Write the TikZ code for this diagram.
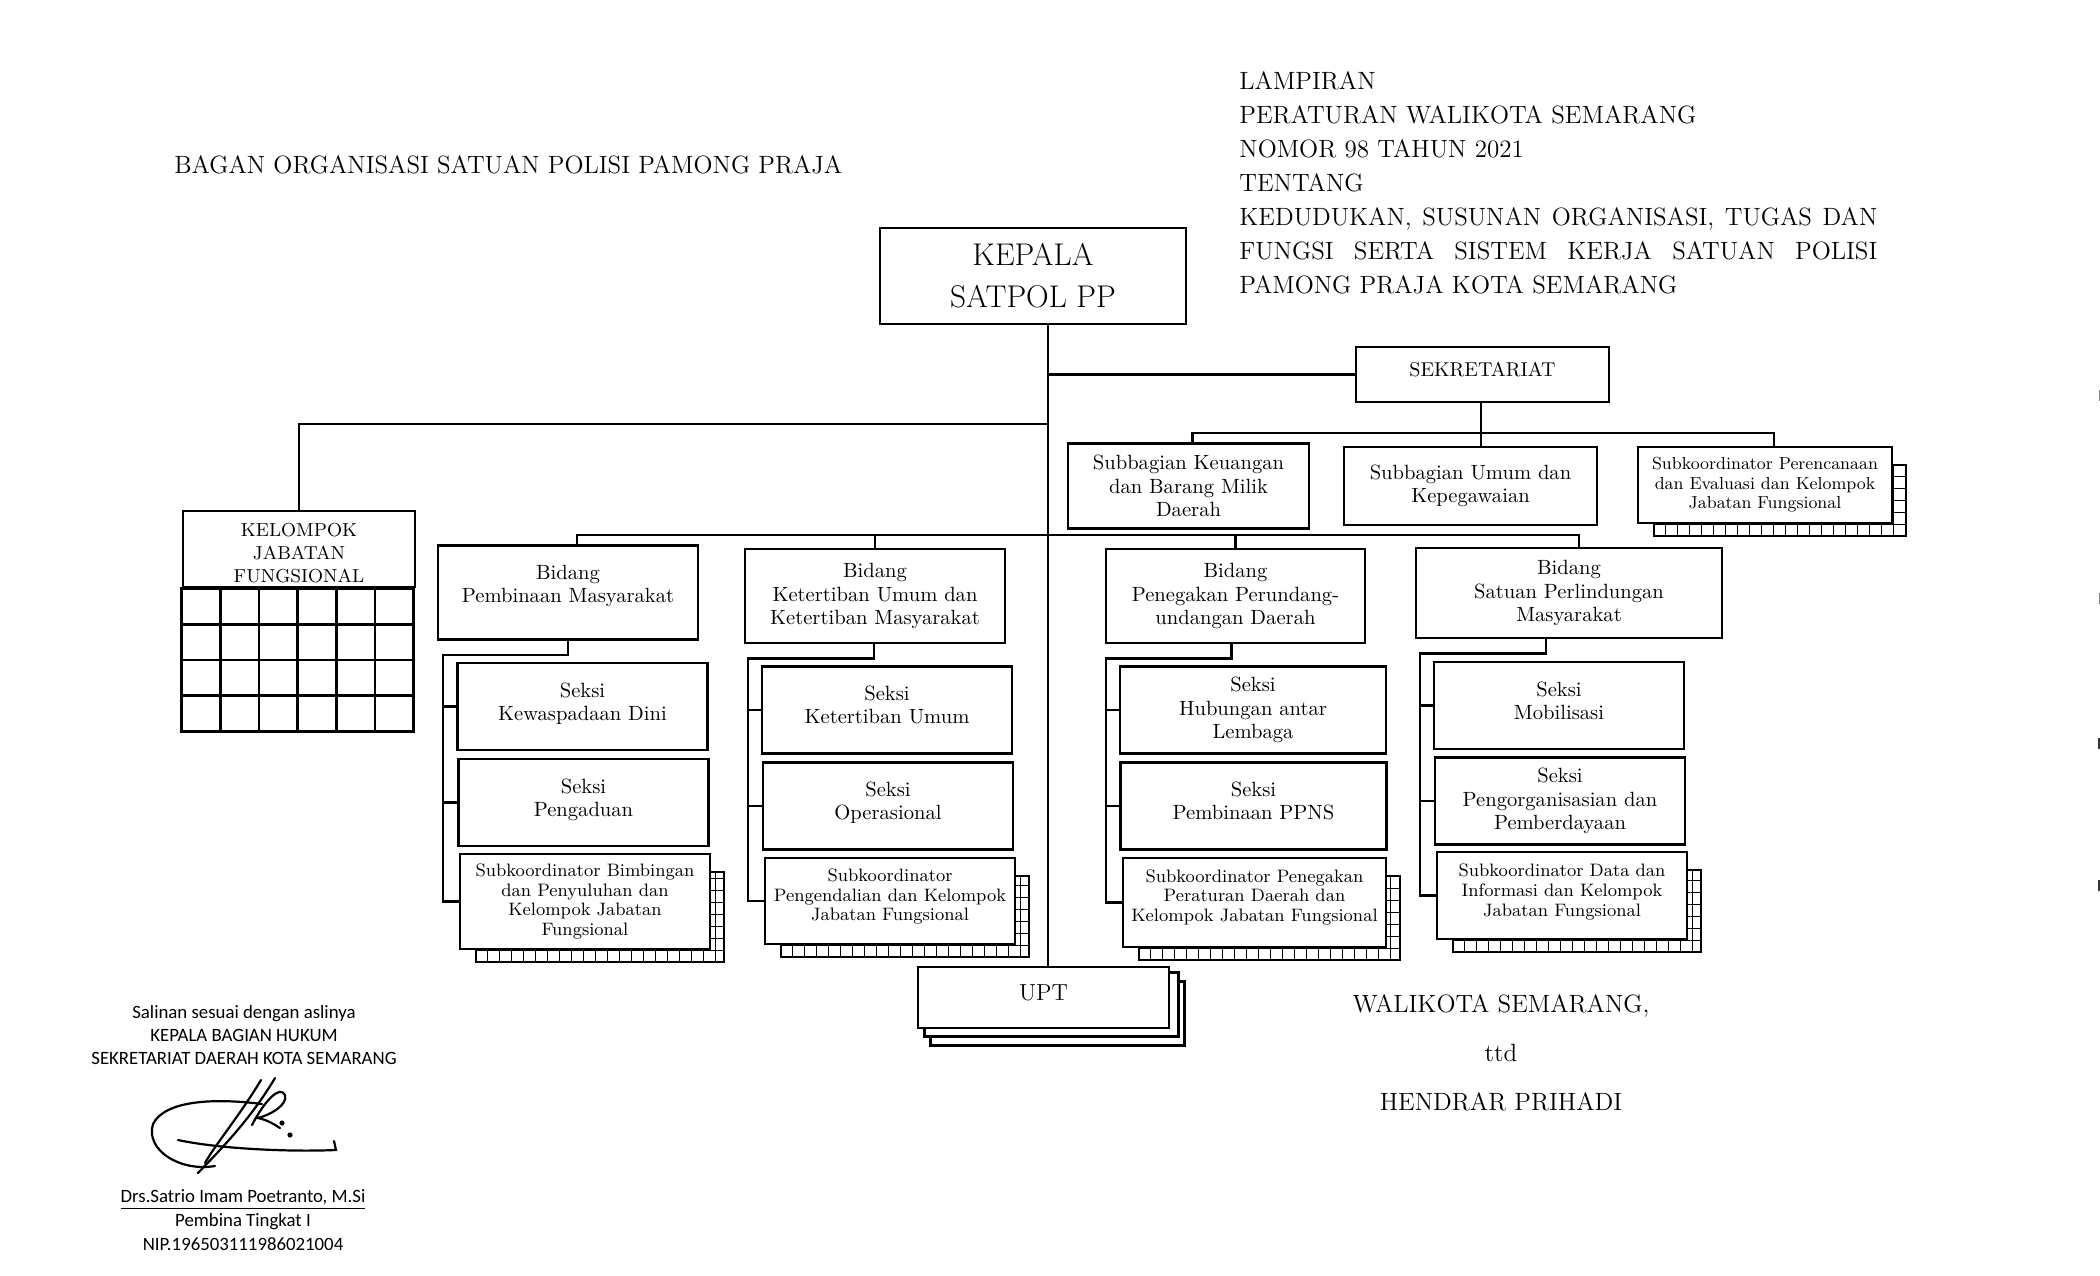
\documentclass[tikz,border=0pt]{standalone}
\usepackage{fontspec}
\newfontfamily\calibrifont{Carlito}
\usetikzlibrary{backgrounds}

\newcommand{\gridshadow}[1]{%
	\coordinate (#1 sw) at ([shift={(17,12)}]#1.south west);
	\coordinate (#1 ne) at ([shift={(13,19)}]#1.north east);
	\begin{scope}[on background layer]
		\fill[white] (#1 sw) rectangle (#1 ne);
		\begin{scope}
			\clip (#1 sw) rectangle (#1 ne);
			\draw[line width=0.5pt, shift={(#1 sw)}] (0,0) grid[step=6pt] (600,-300);
		\end{scope}
		\draw[line width=1pt] (#1 sw) rectangle (#1 ne);
	\end{scope}}
\newcommand{\ratabaris}[1]{\makebox[319pt][s]{\spaceskip=0pt\relax\xspaceskip=0pt\relax #1}}

\begin{document}
\begin{tikzpicture}[x=0.5pt, y=-0.5pt,
	kotak style/.style={draw, line width=1.4pt, fill=white, align=center, inner sep=1pt},
	bidang style/.style={kotak style, minimum width=130pt, minimum height=47pt, font=\fontsize{10.3}{11.8}\selectfont},
	seksi style/.style={kotak style, minimum width=125pt, minimum height=43.5pt, font=\fontsize{10.3}{11.6}\selectfont},
	sub style/.style={kotak style, minimum width=125pt, minimum height=44pt, font=\fontsize{9}{9.8}\selectfont},
	judul style/.style={inner sep=0pt, font=\fontsize{12.5}{17}\selectfont},
	ttd style/.style={inner sep=0pt, align=center, font=\calibrifont\fontsize{9.4}{11.4}\selectfont},
	garis style/.style={line width=1.3pt}]
	\useasboundingbox (0,0) rectangle (2100,1275);
	\node[judul style, anchor=west] (judul) at (174,165) {BAGAN ORGANISASI SATUAN POLISI PAMONG PRAJA};
	\node[judul style, anchor=north west, text width=319pt, align=left] (lampiran) at (1239,71) {LAMPIRAN\\
		PERATURAN WALIKOTA SEMARANG\\
		NOMOR 98 TAHUN 2021\\
		TENTANG\\
		\ratabaris{KEDUDUKAN, SUSUNAN ORGANISASI, TUGAS DAN}\\
		\ratabaris{FUNGSI SERTA SISTEM KERJA SATUAN POLISI}\\
		PAMONG PRAJA KOTA SEMARANG};
	\node[kotak style, minimum width=153pt, minimum height=48pt, font=\fontsize{15.7}{21}\selectfont] (K) at (1033,276) {KEPALA\\SATPOL PP};
	\node[kotak style, minimum width=126.5pt, minimum height=27.5pt, text depth=5.4pt, font=\fontsize{10}{12}\selectfont] (SEK) at (1482.5,374.5) {SEKRETARIAT};
	\node[seksi style, minimum width=120.5pt, minimum height=42.5pt] (SB1) at (1188.5,486) {Subbagian Keuangan\\dan Barang Milik\\Daerah};
	\node[seksi style, minimum width=126.5pt, minimum height=39pt] (SB2) at (1470.5,486) {Subbagian Umum dan\\Kepegawaian};
	\node[sub style, minimum width=127pt, minimum height=38pt, font=\fontsize{8.7}{9.8}\selectfont] (SB3) at (1765,485) {Subkoordinator Perencanaan\\dan Evaluasi dan Kelompok\\Jabatan Fungsional};
	\node[kotak style, minimum width=116pt, minimum height=38pt, text height=34pt, font=\fontsize{9.4}{11.5}\selectfont] (KJF) at (299,549) {KELOMPOK\\JABATAN\\FUNGSIONAL};
	\draw[line width=1.4pt, shift={(KJF.south west)}] (0,143) grid[xstep=19.333pt, ystep=17.875pt] (232,0);
	\draw[line width=1.4pt] (KJF.south west) rectangle ++(232,143);
	\node[bidang style, text depth=8.5pt] (B1) at (568,592.5) {Bidang\\Pembinaan Masyarakat};
	\node[bidang style] (B2) at (875,596) {Bidang\\Ketertiban Umum dan\\Ketertiban Masyarakat};
	\node[bidang style, minimum width=129.5pt] (B3) at (1235.5,596) {Bidang\\Penegakan Perundang-\\undangan Daerah};
	\node[bidang style, minimum width=153pt, minimum height=45pt] (B4) at (1569,593) {Bidang\\Satuan Perlindungan\\Masyarakat};
	\node[seksi style, text depth=5pt] (S11) at (582.5,706.5) {Seksi\\Kewaspadaan Dini};
	\node[seksi style, text depth=5pt] (S12) at (583.5,802.5) {Seksi\\Pengaduan};
	\node[sub style, minimum height=47.5pt] (S13) at (585,901.5) {Subkoordinator Bimbingan\\dan Penyuluhan dan\\Kelompok Jabatan\\Fungsional};
	\node[seksi style, text depth=5pt] (S21) at (887,710) {Seksi\\Ketertiban Umum};
	\node[seksi style, text depth=5pt] (S22) at (888,806) {Seksi\\Operasional};
	\node[sub style, minimum height=43pt, text depth=6pt] (S23) at (890,901) {Subkoordinator\\Pengendalian dan Kelompok\\Jabatan Fungsional};
	\node[seksi style, minimum width=133pt] (S31) at (1253,710) {Seksi\\Hubungan antar\\Lembaga};
	\node[seksi style, minimum width=133pt, text depth=5pt] (S32) at (1253.5,806) {Seksi\\Pembinaan PPNS};
	\node[sub style, minimum width=131.5pt, minimum height=44.5pt, text depth=7pt] (S33) at (1254.5,902.5) {Subkoordinator Penegakan\\Peraturan Daerah dan\\Kelompok Jabatan Fungsional};
	\node[seksi style, text depth=5pt] (S41) at (1559,705.5) {Seksi\\Mobilisasi};
	\node[seksi style] (S42) at (1560,801) {Seksi\\Pengorganisasian dan\\Pemberdayaan};
	\node[sub style, minimum height=43.5pt, text depth=5.4pt] (S43) at (1562,895.5) {Subkoordinator Data dan\\Informasi dan Kelompok\\Jabatan Fungsional};
	\node[kotak style, minimum width=125.5pt, minimum height=30.5pt, text depth=5.4pt, font=\fontsize{11.6}{14}\selectfont] (UPT) at (1043.5,997.5) {UPT};
	\foreach \s in {S13,S23,S33,S43,SB3}
	\gridshadow{\s};
	\begin{scope}[on background layer]
		\draw[line width=1.4pt, fill=white] ([shift={(14,16)}]UPT.south west) rectangle ([shift={(14,16)}]UPT.north east);
		\draw[line width=1.4pt, fill=white] ([shift={(8,7)}]UPT.south west) rectangle ([shift={(8,7)}]UPT.north east);
	\end{scope}
	\coordinate (spine) at (1048,0);
	\coordinate (jfbar) at (1048,424);
	\coordinate (sekbar) at (1481,433);
	\coordinate (bidbar) at (1048,535);
	\draw[garis style] (K.south -| spine) -- (UPT.north -| spine);
	\draw[garis style] (spine |- SEK.west) -- (SEK.west);
	\draw[garis style] (jfbar) -| (KJF.north);
	\draw[garis style] (SEK.south -| sekbar) -- (SB2.north -| sekbar);
	\draw[garis style] ([xshift=2pt]SB1.north) |- (sekbar) -| ([xshift=4.5pt]SB3.north);
	\draw[garis style] ([xshift=4.5pt]B1.north) |- ([xshift=5pt]B4.north |- bidbar) -- ([xshift=5pt]B4.north);
	\foreach \b in {B2,B3}
	\draw[garis style] (\b.north) -- (\b.north |- bidbar);
	\foreach \g/\t/\o in {1/443/0, 2/748/-1, 3/1106/-4, 4/1420/-23} {
		\coordinate (T\g) at (\t,0);
		\draw[garis style] ([xshift=\o*0.5pt]B\g.south) -- ++(0,14) -| (T\g |- S\g3.west) -- (S\g3.west);
		\foreach \k in {1,2}
		\draw[garis style] (T\g |- S\g\k.west) -- (S\g\k.west);
	}
	\node[judul style, align=center, font=\fontsize{12.5}{24.5}\selectfont] (walikota) at (1501,1053) {WALIKOTA SEMARANG,\\ttd\\HENDRAR PRIHADI};
	\node[ttd style] (salinan) at (244,1035) {Salinan sesuai dengan aslinya\\KEPALA BAGIAN HUKUM\\SEKRETARIAT DAERAH KOTA SEMARANG};
	\node[ttd style, font=\calibrifont\fontsize{9.4}{11.8}\selectfont] (pejabat) at (243,1220) {\underline{Drs.Satrio Imam Poetranto, M.Si}\\Pembina Tingkat I\\NIP.196503111986021004};
	\draw[line width=1.1pt, line cap=round] (262,1104) .. controls (215,1098) and (165,1100) .. (153,1124) .. controls (145,1150) and (180,1172) .. (215,1166);
	\draw[line width=1.1pt, line cap=round] (178,1140) .. controls (220,1149) and (290,1152) .. (336,1150) -- (334,1141);
	\draw[line width=1.1pt, line cap=round] (275,1078) .. controls (250,1120) and (220,1150) .. (198,1173);
	\draw[line width=1.1pt, line cap=round] (261,1080) .. controls (240,1115) and (215,1145) .. (205,1163);
	\draw[line width=1.1pt, line cap=round] (252,1125) .. controls (265,1100) and (280,1085) .. (285,1095) .. controls (288,1105) and (270,1115) .. (258,1118) .. controls (268,1120) and (275,1125) .. (280,1128);
	\fill (282,1123) circle (1.3pt);
	\fill (290,1135) circle (1.3pt);
	\foreach \m in {390,593}
	\fill[black!50] (2098.5,\m) rectangle (2100,\m+11);
	\foreach \m in {738,880}
	\fill[black!80] (2097.5,\m) rectangle (2100,\m+11);
\end{tikzpicture}
\end{document}
